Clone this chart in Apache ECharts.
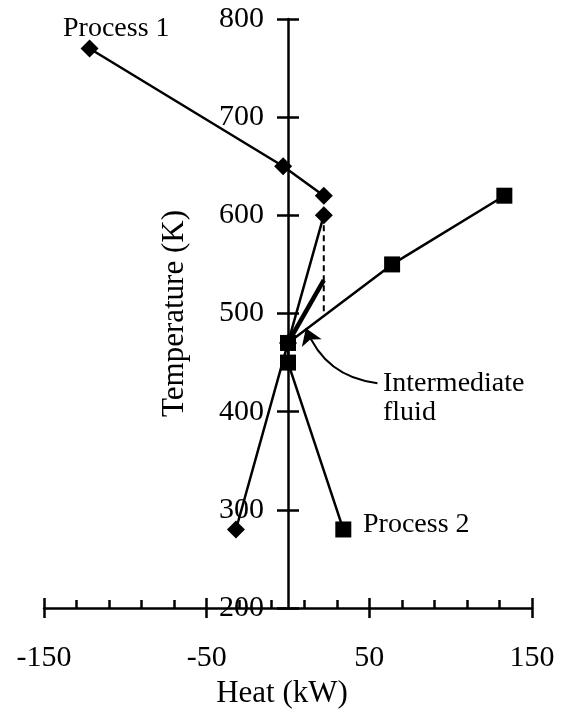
<!DOCTYPE html>
<html>
<head>
<meta charset="utf-8">
<script src="https://cdn.jsdelivr.net/npm/echarts@6/dist/echarts.min.js"></script>
<style>
html,body{margin:0;padding:0;background:#fff;}
#chart{width:563px;height:713px;}
</style>
</head>
<body>
<div id="chart"></div>
<script>
// ---- data (Heat kW, Temperature K) ----
var process1Upper = [[-122, 770], [-3, 650], [22, 620]];
var process1Lower = [[22, 600], [0, 470], [-32, 280]];
var process2 = [[34, 280], [0, 450], [0, 470], [64, 550], [133, 620]];
var intermediateFluid = [[0, 470], [22, 534]];
var dashedDrop = [[22, 600], [22, 497]];
var arrowPath = [[55, 429], [11, 485]];
var xTickLabels = [-150, -50, 50, 150];
var yTickLabels = [200, 300, 400, 500, 600, 700, 800];

var FONT = '"Liberation Serif", "Times New Roman", serif';
var BLACK = '#000';
var GRID_LEFT = 44, GRID_RIGHT = 31;
// y axis crosses the x axis at Heat = 0 (middle of the -150..150 range)
var Y_AXIS_OFFSET = -(563 - GRID_LEFT - GRID_RIGHT) / 2;

var chart = echarts.init(document.getElementById('chart'));

var xBase = {
  type: 'value', min: -150, max: 150, interval: 100,
  position: 'bottom', gridIndex: 0,
  splitLine: {show: false}
};
var yBase = {
  type: 'value', min: 200, max: 800, interval: 100,
  position: 'left', gridIndex: 0, offset: Y_AXIS_OFFSET,
  splitLine: {show: false}
};

var option = {
  animation: false,
  backgroundColor: '#fff',
  grid: {left: GRID_LEFT, right: GRID_RIGHT, top: 19, bottom: 105, containLabel: false, outerBoundsMode: 'none'},
  xAxis: [
    Object.assign({}, xBase, {
      axisLine: {onZero: false, lineStyle: {color: BLACK, width: 2.5}},
      axisTick: {inside: true, length: 10, lineStyle: {color: BLACK, width: 2.5}},
      minorTick: {show: true, splitNumber: 5, length: 8, lineStyle: {color: BLACK, width: 2.5}},
      axisLabel: {
        margin: 35, color: BLACK, fontFamily: FONT, fontSize: 30,
        formatter: function (v) { return xTickLabels.indexOf(v) >= 0 ? String(v) : ''; }
      },
      name: 'Heat (kW)', nameLocation: 'middle', nameGap: 68,
      nameTextStyle: {color: BLACK, fontFamily: FONT, fontSize: 31, padding: [0, 12, 0, 0]}
    }),
    Object.assign({}, xBase, {
      axisLine: {show: false, onZero: false},
      axisTick: {inside: false, length: 10, lineStyle: {color: BLACK, width: 2.5}},
      axisLabel: {show: false}
    })
  ],
  yAxis: [
    Object.assign({}, yBase, {
      axisLine: {onZero: false, lineStyle: {color: BLACK, width: 2.5}},
      axisTick: {inside: true, length: 11, lineStyle: {color: BLACK, width: 2.5}},
      axisLabel: {
        margin: 24, color: BLACK, fontFamily: FONT, fontSize: 30,
        formatter: function (v) { return yTickLabels.indexOf(v) >= 0 ? String(v) : ''; }
      },
      name: 'Temperature (K)', nameLocation: 'middle', nameGap: 98,
      nameTextStyle: {color: BLACK, fontFamily: FONT, fontSize: 31}
    }),
    Object.assign({}, yBase, {
      axisLine: {show: false, onZero: false},
      axisTick: {inside: false, length: 11, lineStyle: {color: BLACK, width: 2.5}},
      axisLabel: {show: false}
    })
  ],
  series: [
    {
      name: 'dashed', type: 'line', data: dashedDrop, symbol: 'none',
      lineStyle: {color: BLACK, width: 2, type: [6, 4]}, z: 3
    },
    {
      name: 'Intermediate fluid', type: 'line', data: intermediateFluid, symbol: 'none',
      lineStyle: {color: BLACK, width: 4.5}, z: 3
    },
    {
      name: 'Process 1a', type: 'line', data: process1Upper,
      symbol: 'diamond', symbolSize: 18,
      itemStyle: {color: BLACK}, lineStyle: {color: BLACK, width: 2.5}, z: 4
    },
    {
      name: 'Process 1b', type: 'line', data: process1Lower,
      symbol: 'diamond', symbolSize: 18,
      itemStyle: {color: BLACK}, lineStyle: {color: BLACK, width: 2.5}, z: 4
    },
    {
      name: 'Process 2', type: 'line', data: process2,
      symbol: 'rect', symbolSize: 16,
      itemStyle: {color: BLACK}, lineStyle: {color: BLACK, width: 2.5}, z: 5
    },
    {
      name: 'pointer', type: 'lines', coordinateSystem: 'cartesian2d',
      xAxisIndex: 0, yAxisIndex: 0,
      symbol: ['none', 'arrow'], symbolSize: 16,
      lineStyle: {color: BLACK, width: 2, curveness: 0.3, opacity: 1},
      data: [{coords: arrowPath}], z: 6
    }
  ],
  graphic: [
    {type: 'text', x: 63, y: 29, style: {text: 'Process 1', font: '28px ' + FONT, fill: BLACK, verticalAlign: 'middle', align: 'left'}},
    {type: 'text', x: 363, y: 525, style: {text: 'Process 2', font: '28px ' + FONT, fill: BLACK, verticalAlign: 'middle', align: 'left'}},
    {type: 'text', x: 383, y: 384, style: {text: 'Intermediate', font: '28px ' + FONT, fill: BLACK, verticalAlign: 'middle', align: 'left'}},
    {type: 'text', x: 383, y: 413, style: {text: 'fluid', font: '28px ' + FONT, fill: BLACK, verticalAlign: 'middle', align: 'left'}}
  ]
};
chart.setOption(option);
</script>
</body>
</html>
